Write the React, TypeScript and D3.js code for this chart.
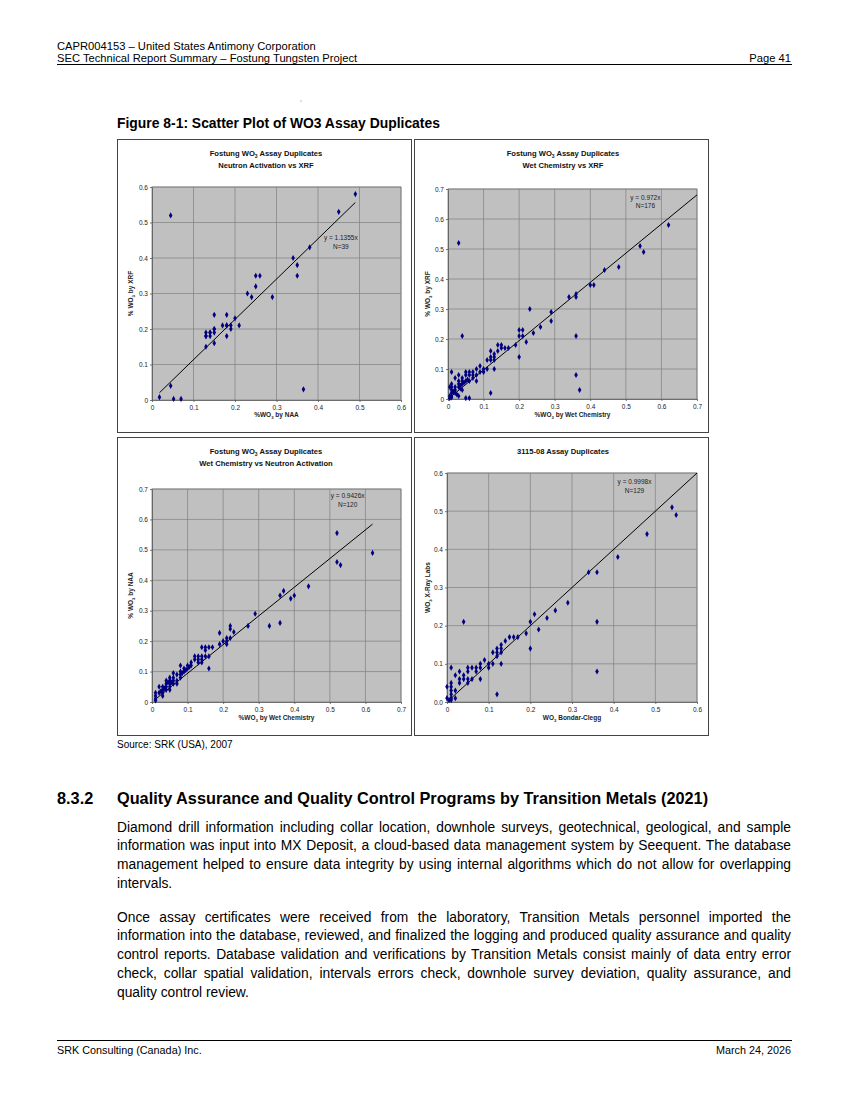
import React, { useEffect, useRef } from "react";
import * as d3 from "d3";

type Pt = [number, number];

// Fostung: Neutron Activation (x) vs XRF (y)
const naaVsXrf: Pt[] = [
  [0.045, 0.52], [0.018, 0.008], [0.045, 0.04], [0.052, 0.003], [0.07, 0.003],
  [0.13, 0.15], [0.13, 0.18], [0.13, 0.19], [0.14, 0.18], [0.14, 0.19],
  [0.15, 0.16], [0.15, 0.19], [0.15, 0.2], [0.15, 0.24], [0.17, 0.21],
  [0.18, 0.18], [0.18, 0.21], [0.18, 0.24], [0.19, 0.2], [0.19, 0.21],
  [0.2, 0.23], [0.21, 0.21], [0.23, 0.3], [0.24, 0.29], [0.25, 0.32],
  [0.25, 0.35], [0.26, 0.35], [0.29, 0.29], [0.34, 0.4], [0.35, 0.38],
  [0.35, 0.35], [0.38, 0.43], [0.365, 0.03], [0.45, 0.53], [0.49, 0.58],
  [0.13, 0.18], [0.15, 0.2], [0.18, 0.21], [0.14, 0.19],
];

// Fostung: Wet Chemistry (x) vs XRF (y)
const wetVsXrf: Pt[] = [
  [0.03, 0.52], [0.04, 0.21], [0.62, 0.58], [0.54, 0.51], [0.55, 0.49],
  [0.48, 0.44], [0.44, 0.43], [0.4, 0.38], [0.41, 0.38], [0.34, 0.34],
  [0.36, 0.35], [0.36, 0.34], [0.23, 0.3], [0.29, 0.29], [0.29, 0.26],
  [0.26, 0.24], [0.24, 0.22], [0.22, 0.19], [0.2, 0.23], [0.21, 0.23],
  [0.2, 0.21], [0.21, 0.21], [0.2, 0.14], [0.19, 0.18], [0.17, 0.17],
  [0.16, 0.17], [0.15, 0.18], [0.14, 0.18], [0.15, 0.17], [0.14, 0.16],
  [0.13, 0.15], [0.12, 0.16], [0.13, 0.14], [0.12, 0.14], [0.12, 0.13],
  [0.13, 0.13], [0.11, 0.13], [0.13, 0.1], [0.11, 0.1], [0.1, 0.1],
  [0.1, 0.09], [0.09, 0.11], [0.08, 0.1], [0.08, 0.06], [0.07, 0.09],
  [0.07, 0.08], [0.06, 0.09], [0.06, 0.08], [0.05, 0.09], [0.05, 0.08],
  [0.05, 0.06], [0.04, 0.07], [0.04, 0.06], [0.04, 0.05], [0.04, 0.03],
  [0.03, 0.08], [0.03, 0.06], [0.03, 0.05], [0.03, 0.04], [0.03, 0.01],
  [0.02, 0.07], [0.02, 0.04], [0.02, 0.03], [0.02, 0.02], [0.01, 0.09],
  [0.01, 0.05], [0.01, 0.04], [0.01, 0.03], [0.01, 0.02], [0.01, 0.01],
  [0.005, 0.04], [0.005, 0.01], [0.01, 0.005], [0.005, 0.003], [0.05, 0.003],
  [0.06, 0.003], [0.12, 0.02], [0.36, 0.21], [0.36, 0.08], [0.37, 0.03],
  [0.035, 0.035], [0.07, 0.07], [0.08, 0.08], [0.06, 0.06], [0.09, 0.09],
  [0.015, 0.025], [0.025, 0.015], [0.035, 0.045], [0.045, 0.055], [0.055, 0.065],
];

// Fostung: Wet Chemistry (x) vs Neutron Activation (y)
const wetVsNaa: Pt[] = [
  [0.52, 0.555], [0.62, 0.49], [0.52, 0.46], [0.53, 0.45], [0.44, 0.38],
  [0.37, 0.365], [0.36, 0.35], [0.4, 0.35], [0.39, 0.34], [0.29, 0.29],
  [0.27, 0.25], [0.33, 0.25], [0.36, 0.26], [0.22, 0.25], [0.22, 0.24],
  [0.23, 0.23], [0.19, 0.227], [0.22, 0.21], [0.21, 0.21], [0.21, 0.2],
  [0.2, 0.2], [0.21, 0.19], [0.19, 0.19], [0.17, 0.18], [0.16, 0.18],
  [0.15, 0.18], [0.14, 0.18], [0.15, 0.17], [0.16, 0.15], [0.15, 0.15],
  [0.14, 0.15], [0.13, 0.15], [0.12, 0.15], [0.14, 0.14], [0.13, 0.14],
  [0.13, 0.13], [0.14, 0.13], [0.16, 0.11], [0.11, 0.13], [0.11, 0.12],
  [0.1, 0.12], [0.1, 0.11], [0.09, 0.11], [0.08, 0.12], [0.09, 0.1],
  [0.08, 0.1], [0.08, 0.09], [0.07, 0.09], [0.06, 0.095], [0.06, 0.08],
  [0.08, 0.08], [0.07, 0.06], [0.06, 0.07], [0.05, 0.08], [0.05, 0.07],
  [0.05, 0.06], [0.05, 0.05], [0.05, 0.04], [0.04, 0.07], [0.04, 0.06],
  [0.04, 0.05], [0.04, 0.04], [0.03, 0.05], [0.03, 0.04], [0.03, 0.03],
  [0.03, 0.02], [0.02, 0.05], [0.02, 0.03], [0.01, 0.03], [0.01, 0.02],
  [0.01, 0.01], [0.01, 0.005], [0.06, 0.06], [0.07, 0.07], [0.045, 0.065],
  [0.055, 0.065], [0.035, 0.045], [0.025, 0.035], [0.095, 0.105], [0.105, 0.115],
  [0.12, 0.14], [0.085, 0.095],
];

// 3115-08: Bondar-Clegg (x) vs X-Ray Labs (y)
const bondarVsXray: Pt[] = [
  [0.54, 0.51], [0.55, 0.49], [0.48, 0.44], [0.41, 0.38], [0.34, 0.34],
  [0.36, 0.34], [0.29, 0.26], [0.26, 0.24], [0.24, 0.22], [0.21, 0.23],
  [0.2, 0.21], [0.22, 0.19], [0.19, 0.18], [0.17, 0.17], [0.16, 0.17],
  [0.15, 0.17], [0.14, 0.16], [0.13, 0.15], [0.12, 0.14], [0.13, 0.14],
  [0.11, 0.13], [0.12, 0.13], [0.13, 0.13], [0.12, 0.12], [0.1, 0.1],
  [0.11, 0.1], [0.13, 0.1], [0.1, 0.09], [0.09, 0.11], [0.08, 0.1],
  [0.08, 0.09], [0.07, 0.09], [0.07, 0.08], [0.06, 0.09], [0.05, 0.09],
  [0.05, 0.08], [0.08, 0.06], [0.06, 0.06], [0.05, 0.06], [0.05, 0.05],
  [0.04, 0.07], [0.04, 0.06], [0.03, 0.08], [0.03, 0.06], [0.03, 0.05],
  [0.02, 0.07], [0.02, 0.03], [0.02, 0.01], [0.01, 0.09], [0.01, 0.05],
  [0.01, 0.04], [0.01, 0.03], [0.01, 0.02], [0.01, 0.01], [0.01, 0.005],
  [0.0, 0.04], [0.0, 0.01], [0.005, 0.005], [0.04, 0.21], [0.2, 0.14],
  [0.12, 0.02], [0.36, 0.21], [0.36, 0.08],
];

const ticks06 = [0, 0.1, 0.2, 0.3, 0.4, 0.5, 0.6];
const ticks07 = [0, 0.1, 0.2, 0.3, 0.4, 0.5, 0.6, 0.7];

const headerLines = [
  "CAPR004153 – United States Antimony Corporation",
  "SEC Technical Report Summary – Fostung Tungsten Project",
];
const para1 = [
  "Diamond drill information including collar location, downhole surveys, geotechnical, geological, and sample",
  "information was input into MX Deposit, a cloud-based data management system by Seequent. The database",
  "management helped to ensure data integrity by using internal algorithms which do not allow for overlapping",
  "intervals.",
];
const para2 = [
  "Once assay certificates were received from the laboratory, Transition Metals personnel imported the",
  "information into the database, reviewed, and finalized the logging and produced quality assurance and quality",
  "control reports. Database validation and verifications by Transition Metals consist mainly of data entry error",
  "check, collar spatial validation, intervals errors check, downhole survey deviation, quality assurance, and",
  "quality control review.",
];

interface ChartSpec {
  title: string[];
  xLabel: string;
  yLabel: string;
  points: Pt[];
  slope: number;
  n: number;
  ticks: number[];
  yFmt: (v: number) => string;
  lineFrom: number;
  lineTo: number;
  eqAt: Pt;
  box: { x: number; y: number; w: number; h: number };
  plot: { l: number; r: number; t: number; b: number };
}

const fmt = (v: number) => (v === 0 ? "0" : d3.format(".1f")(v));

// "_3" marks a subscript 3 (WO3)
const charts: ChartSpec[] = [
  {
    title: ["Fostung WO_3 Assay Duplicates", "Neutron Activation vs XRF"],
    xLabel: "%WO_3 by NAA", yLabel: "% WO_3 by XRF",
    points: naaVsXrf, slope: 1.1355, n: 39, ticks: ticks06, yFmt: fmt,
    lineFrom: 0.018, lineTo: 0.49, eqAt: [0.455, 0.45],
    box: { x: 117, y: 139, w: 294, h: 293 },
    plot: { l: 152, r: 401, t: 187, b: 400 },
  },
  {
    title: ["Fostung WO_3 Assay Duplicates", "Wet Chemistry vs XRF"],
    xLabel: "%WO_3 by Wet Chemistry", yLabel: "% WO_3 by XRF",
    points: wetVsXrf, slope: 0.972, n: 176, ticks: ticks07, yFmt: fmt,
    lineFrom: 0, lineTo: 0.7, eqAt: [0.555, 0.665],
    box: { x: 414, y: 139, w: 294, h: 293 },
    plot: { l: 448, r: 697, t: 189, b: 399 },
  },
  {
    title: ["Fostung WO_3 Assay Duplicates", "Wet Chemistry vs Neutron Activation"],
    xLabel: "%WO_3 by Wet Chemistry", yLabel: "% WO_3 by NAA",
    points: wetVsNaa, slope: 0.9426, n: 120, ticks: ticks07, yFmt: fmt,
    lineFrom: 0.01, lineTo: 0.62, eqAt: [0.55, 0.67],
    box: { x: 117, y: 437, w: 294, h: 298 },
    plot: { l: 152, r: 401, t: 489, b: 702 },
  },
  {
    title: ["3115-08 Assay Duplicates"],
    xLabel: "WO_3 Bondar-Clegg", yLabel: "WO_3 X-Ray Labs",
    points: bondarVsXray, slope: 0.9998, n: 129, ticks: ticks06,
    yFmt: (v) => d3.format(".1f")(v),
    lineFrom: 0.01, lineTo: 0.6, eqAt: [0.45, 0.57],
    box: { x: 414, y: 437, w: 294, h: 298 },
    plot: { l: 447, r: 697, t: 473, b: 702 },
  },
];

const FONT = "'Liberation Sans', Arial, Helvetica, sans-serif";

type TextSel = d3.Selection<SVGTextElement, unknown, null, undefined>;

// write a label, turning "_3" into a real subscript tspan
function subText(t: TextSel, s: string, size: number) {
  s.split("_3").forEach((part, i) => {
    if (i > 0) {
      t.append("tspan").attr("dy", size * 0.25).attr("font-size", size * 0.65).text("3");
      t.append("tspan").attr("dy", -size * 0.25).text(part);
    } else {
      t.append("tspan").text(part);
    }
  });
}

function drawChart(svg: d3.Selection<SVGSVGElement, unknown, null, undefined>, c: ChartSpec) {
  const g = svg.append("g").style("font-family", FONT);
  const max = c.ticks[c.ticks.length - 1];
  const x = d3.scaleLinear().domain([0, max]).range([c.plot.l, c.plot.r]);
  const y = d3.scaleLinear().domain([0, max]).range([c.plot.b, c.plot.t]);

  g.append("rect")
    .attr("x", c.box.x + 0.5).attr("y", c.box.y + 0.5)
    .attr("width", c.box.w).attr("height", c.box.h)
    .attr("fill", "#fff").attr("stroke", "#444").attr("stroke-width", 1);

  c.title.forEach((t, i) => {
    const txt = g.append("text")
      .attr("x", c.box.x + c.box.w / 2 + 2)
      .attr("y", c.box.y + 17 + i * 11.5)
      .attr("text-anchor", "middle")
      .attr("font-size", 7.6).attr("font-weight", "bold").attr("fill", "#111");
    subText(txt, t, 7.6);
  });

  g.append("rect")
    .attr("x", c.plot.l).attr("y", c.plot.t)
    .attr("width", c.plot.r - c.plot.l).attr("height", c.plot.b - c.plot.t)
    .attr("fill", "#c0c0c0").attr("stroke", "#808080").attr("stroke-width", 0.8);

  const inner = c.ticks.filter((t) => t > 0);
  g.append("g").selectAll("line").data(inner).join("line")
    .attr("x1", (d) => x(d)).attr("x2", (d) => x(d))
    .attr("y1", c.plot.t).attr("y2", c.plot.b)
    .attr("stroke", "#7f7f7f").attr("stroke-width", 0.7);
  g.append("g").selectAll("line").data(inner).join("line")
    .attr("y1", (d) => y(d)).attr("y2", (d) => y(d))
    .attr("x1", c.plot.l).attr("x2", c.plot.r)
    .attr("stroke", "#7f7f7f").attr("stroke-width", 0.7);

  const xAxis = g.append("g")
    .attr("transform", `translate(0,${c.plot.b})`)
    .call(d3.axisBottom(x).tickValues(c.ticks).tickFormat((v) => fmt(+v)).tickSize(2).tickSizeOuter(0).tickPadding(3));
  const yAxis = g.append("g")
    .attr("transform", `translate(${c.plot.l},0)`)
    .call(d3.axisLeft(y).tickValues(c.ticks).tickFormat((v) => c.yFmt(+v)).tickSize(2).tickSizeOuter(0).tickPadding(2));
  [xAxis, yAxis].forEach((a) => {
    a.selectAll("path,line").attr("stroke", "#555").attr("stroke-width", 0.8);
    a.selectAll("text").attr("font-size", 6.5).attr("font-family", FONT).attr("fill", "#222");
  });

  g.append("line")
    .attr("x1", x(c.lineFrom)).attr("y1", y(c.slope * c.lineFrom))
    .attr("x2", x(c.lineTo)).attr("y2", y(c.slope * c.lineTo))
    .attr("stroke", "#000").attr("stroke-width", 1);

  g.append("g").selectAll("path").data(c.points).join("path")
    .attr("d", d3.symbol().type(d3.symbolDiamond).size(11)())
    .attr("transform", (d) => `translate(${x(d[0])},${y(d[1])})`)
    .attr("fill", "#000080");

  const eq = g.append("text")
    .attr("text-anchor", "middle").attr("font-size", 6.5).attr("fill", "#222");
  eq.append("tspan").attr("x", x(c.eqAt[0])).attr("y", y(c.eqAt[1])).text(`y = ${c.slope}x`);
  eq.append("tspan").attr("x", x(c.eqAt[0])).attr("dy", 8.5).text(`N=${c.n}`);

  const xt = g.append("text")
    .attr("x", (c.plot.l + c.plot.r) / 2)
    .attr("y", c.box.y + c.box.h - 15)
    .attr("text-anchor", "middle")
    .attr("font-size", 6.5).attr("font-weight", "bold").attr("fill", "#222");
  subText(xt, c.xLabel, 6.5);
  const yt = g.append("text")
    .attr("transform", `translate(${c.box.x + 16},${(c.plot.t + c.plot.b) / 2}) rotate(-90)`)
    .attr("text-anchor", "middle")
    .attr("font-size", 6.5).attr("font-weight", "bold").attr("fill", "#222");
  subText(yt, c.yLabel, 6.5);
}

function justify(sel: TextSel, width: number) {
  const len = sel.node()!.getComputedTextLength();
  const gaps = (sel.text().match(/ /g) || []).length;
  if (gaps > 0) sel.attr("word-spacing", (width - len) / gaps);
}

const App: React.FC = () => {
  const ref = useRef<SVGSVGElement>(null);

  useEffect(() => {
    const svg = d3.select(ref.current!);
    svg.selectAll("*").remove();
    svg.append("rect").attr("width", 849).attr("height", 1100).attr("fill", "#fff");

    const page = svg.append("g").style("font-family", FONT).attr("fill", "#000");

    // page header
    headerLines.forEach((t, i) => {
      page.append("text").attr("x", 57).attr("y", 50 + i * 11.5).attr("font-size", 11.2).text(t);
    });
    page.append("text").attr("x", 791).attr("y", 61.5).attr("text-anchor", "end").attr("font-size", 11.2).text("Page 41");
    page.append("line").attr("x1", 57).attr("x2", 792).attr("y1", 64.5).attr("y2", 64.5).attr("stroke", "#000").attr("stroke-width", 1);
    page.append("circle").attr("cx", 301).attr("cy", 101).attr("r", 0.5).attr("fill", "#555");

    page.append("text").attr("x", 117).attr("y", 128).attr("font-size", 13.9).attr("font-weight", "bold")
      .text("Figure 8-1: Scatter Plot of WO3 Assay Duplicates");

    charts.forEach((c) => drawChart(svg, c));

    page.append("text").attr("x", 117).attr("y", 748).attr("font-size", 10).text("Source: SRK (USA), 2007");

    page.append("text").attr("x", 57).attr("y", 804).attr("font-size", 16.3).attr("font-weight", "bold").text("8.3.2");
    page.append("text").attr("x", 117).attr("y", 804).attr("font-size", 16.3).attr("font-weight", "bold")
      .text("Quality Assurance and Quality Control Programs by Transition Metals (2021)");

    const drawPara = (lines: string[], y0: number) => {
      lines.forEach((t, i) => {
        const txt = page.append("text").attr("x", 117).attr("y", y0 + i * 18.8).attr("font-size", 13.8).text(t);
        if (i < lines.length - 1) justify(txt, 674);
      });
    };
    drawPara(para1, 831.5);
    drawPara(para2, 921.5);

    page.append("line").attr("x1", 57).attr("x2", 792).attr("y1", 1040.5).attr("y2", 1040.5).attr("stroke", "#000").attr("stroke-width", 1);
    page.append("text").attr("x", 57).attr("y", 1054).attr("font-size", 10.8).text("SRK Consulting (Canada) Inc.");
    page.append("text").attr("x", 791).attr("y", 1054).attr("text-anchor", "end").attr("font-size", 10.8).text("March 24, 2026");
  }, []);

  return (
    <svg
      ref={ref}
      width={849}
      height={1100}
      style={{ position: "absolute", left: 0, top: 0, display: "block" }}
    />
  );
};

export default App;
